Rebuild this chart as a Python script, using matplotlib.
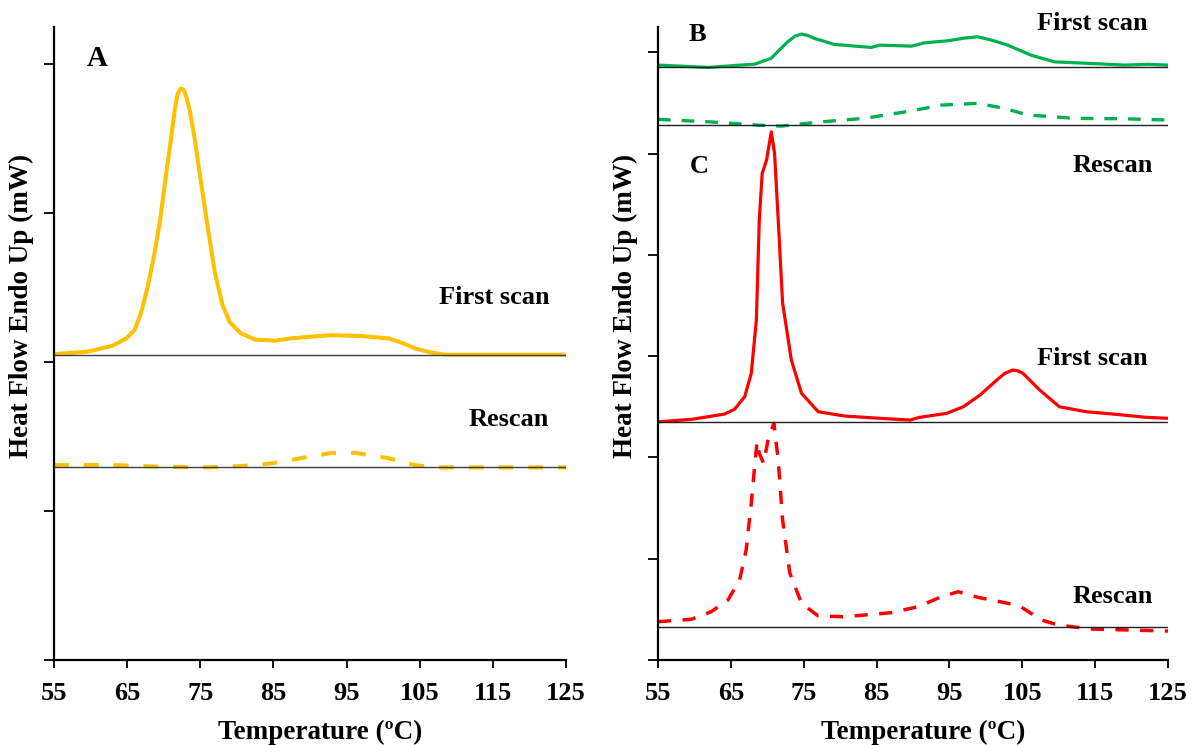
import numpy as np
import matplotlib
matplotlib.use("Agg")
import matplotlib.pyplot as plt

plt.rcParams['font.family'] = ['Liberation Serif', 'DejaVu Serif']
plt.rcParams['font.weight'] = 'bold'

# Panel A (orange) - first scan and rescan
a_first_x = [55, 59.6, 63, 64.9, 66.0, 66.9, 67.8, 68.7, 69.5, 70.3, 71.0, 71.5, 71.9, 72.3, 72.7, 73.1,
             73.6, 74.2, 75.0, 76.0, 77.0, 78.0, 79.0, 80.5, 82.5, 85.2, 87.5, 90.5, 93.0, 97.0, 100.8,
             102.5, 104.5, 106.5, 108.5, 125]
a_first_y = [2.054, 2.07, 2.11, 2.16, 2.215, 2.33, 2.505, 2.72, 2.95, 3.25, 3.50, 3.69, 3.80, 3.837,
             3.83, 3.78, 3.68, 3.51, 3.24, 2.91, 2.60, 2.39, 2.27, 2.195, 2.151, 2.144, 2.16, 2.172,
             2.181, 2.175, 2.159, 2.13, 2.09, 2.065, 2.05, 2.05]
a_re_x = [55, 62.8, 70.6, 75.6, 80.6, 84.8, 89.3, 93.0, 96.2, 100.8, 104.5, 107.7, 125]
a_re_y = [1.309, 1.309, 1.297, 1.293, 1.302, 1.320, 1.360, 1.391, 1.391, 1.354, 1.307, 1.293, 1.293]
a_base = [2.047, 1.293]

# Panel B (green)
b_first_x = [55, 61.9, 68.3, 70.5, 72.8, 73.8, 74.7, 75.6, 76.5, 79.2, 84.3, 85.4, 89.8, 91.6, 94.8,
             97.0, 98.9, 100.8, 103.0, 106.2, 109.4, 114.4, 119.0, 122.2, 125]
b_first_y = [5.874, 5.851, 5.884, 5.940, 6.104, 6.16, 6.180, 6.165, 6.137, 6.078, 6.048, 6.071, 6.061,
             6.094, 6.114, 6.14, 6.153, 6.12, 6.071, 5.972, 5.906, 5.890, 5.874, 5.881, 5.874]
b_re_x = [55, 61.9, 68.7, 71.9, 77.0, 83.3, 89.8, 93.9, 98.9, 102.6, 105.8, 108.0, 112.2, 119.0, 125]
b_re_y = [5.338, 5.314, 5.281, 5.271, 5.311, 5.348, 5.422, 5.479, 5.496, 5.446, 5.380, 5.370, 5.348,
          5.344, 5.331]
b_base = [5.851, 5.278]

# Panel C (red)
c_first_x = [55, 59.6, 64.1, 65.5, 66.9, 67.8, 68.5, 68.9, 69.3, 69.9, 70.55, 71.0, 71.5, 72.1, 73.3,
             74.7, 77.0, 80.6, 85.5, 89.6, 90.9, 94.6, 96.9, 99.2, 101.5, 102.6, 103.7, 104.4, 105.1,
             107.4, 110.1, 113.8, 117.5, 122.0, 125]
c_first_y = [2.352, 2.376, 2.428, 2.475, 2.599, 2.830, 3.356, 4.344, 4.805, 4.936, 5.215, 5.002, 4.344,
             3.526, 2.962, 2.633, 2.451, 2.409, 2.386, 2.369, 2.396, 2.435, 2.500, 2.616, 2.764, 2.83,
             2.863, 2.855, 2.830, 2.665, 2.500, 2.451, 2.428, 2.396, 2.386]
c_re_x = [55, 59.6, 62.3, 64.6, 66.2, 67.1, 67.8, 68.3, 68.6, 68.9, 69.5, 70.1, 70.9, 71.5, 72.1, 73.1,
          74.7, 77.0, 80.6, 87.0, 90.7, 93.9, 96.2, 98.9, 103.0, 104.8, 107.6, 109.9, 114.4, 125]
c_re_y = [0.378, 0.402, 0.477, 0.592, 0.790, 1.086, 1.547, 1.942, 2.155, 2.040, 1.942, 2.172, 2.337,
          1.974, 1.382, 0.856, 0.560, 0.434, 0.427, 0.467, 0.526, 0.625, 0.674, 0.619, 0.560, 0.526,
          0.395, 0.346, 0.306, 0.286]
c_base = [2.352, 0.329]

xticks = [55, 65, 75, 85, 95, 105, 115, 125]

fig = plt.figure(figsize=(11.99, 7.45), dpi=100)
ax1 = fig.add_axes([54/1199, 85/745, 512/1199, 633/745])
ax2 = fig.add_axes([658/1199, 85/745, 510/1199, 633/745])

orange = '#FFC000'
green = '#00B050'
red = '#FF0000'

ax1.plot(a_first_x, a_first_y, color=orange, lw=2.9, solid_capstyle='round', solid_joinstyle='round')
ax1.plot(a_re_x, a_re_y, color=orange, lw=2.9, dashes=[3.7, 3.7])
for b in a_base:
    ax1.axhline(b, color='#404040', lw=1.0, zorder=3)

ax2.plot(b_first_x, b_first_y, color=green, lw=2.3, solid_joinstyle='round')
ax2.plot(b_re_x, b_re_y, color=green, lw=2.4, dashes=[3.8, 3.3])
ax2.plot(c_first_x, c_first_y, color=red, lw=2.3, solid_joinstyle='round')
ax2.plot(c_re_x, c_re_y, color=red, lw=2.5, dashes=[3.8, 3.3])
for b in b_base + c_base:
    ax2.axhline(b, color='#202020', lw=1.0, zorder=3)

for ax, ytop, nt in [(ax1, 4.25, 5), (ax2, 6.25, 7)]:
    ax.set_xlim(55, 125)
    ax.set_ylim(0, ytop)
    ax.set_xticks(xticks)
    ax.set_yticks(range(nt))
    ax.set_yticklabels([])
    ax.spines['top'].set_visible(False)
    ax.spines['right'].set_visible(False)
    ax.spines['left'].set_linewidth(1.6)
    ax.spines['bottom'].set_linewidth(1.6)
    ax.tick_params(axis='x', direction='out', length=6, width=1.3, labelsize=19, pad=10)
    ax.tick_params(axis='y', direction='out', length=7, width=1.3)
    for lab in ax.get_xticklabels():
        lab.set_fontweight('bold')
    ax.set_xlabel('Temperature (ºC)', fontsize=19.5, fontweight='bold')
    ax.set_ylabel('Heat Flow Endo Up (mW)', fontsize=19.5, fontweight='bold')
    ax.yaxis.set_label_coords(-0.04, 0.56)
    ax.xaxis.set_label_coords(0.52, -0.095)

# panel texts
ax1.text(60.9, 3.99, 'A', fontsize=21, fontweight='bold', ha='center', va='baseline')
ax1.text(122.7, 2.39, 'First scan', fontsize=19, fontweight='bold', ha='right', va='baseline')
ax1.text(122.7, 1.57, 'Rescan', fontsize=19, fontweight='bold', ha='right', va='baseline')

ax2.text(60.4, 6.11, 'B', fontsize=19, fontweight='bold', ha='center', va='baseline')
ax2.text(60.6, 4.81, 'C', fontsize=19, fontweight='bold', ha='center', va='baseline')
ax2.text(122.2, 6.22, 'First scan', fontsize=19, fontweight='bold', ha='right', va='baseline')
ax2.text(122.9, 4.82, 'Rescan', fontsize=19, fontweight='bold', ha='right', va='baseline')
ax2.text(122.2, 2.91, 'First scan', fontsize=19, fontweight='bold', ha='right', va='baseline')
ax2.text(122.9, 0.566, 'Rescan', fontsize=19, fontweight='bold', ha='right', va='baseline')

fig.savefig('out.png', dpi=100)
